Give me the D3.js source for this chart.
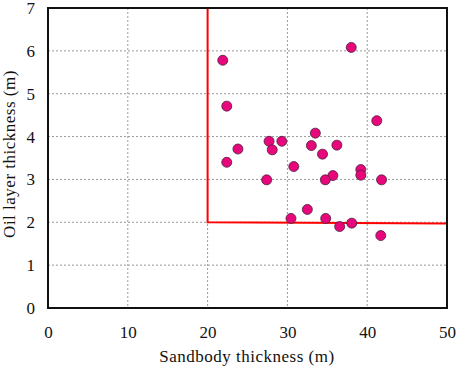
<!DOCTYPE html>
<html>
<head>
<meta charset="utf-8">
<script src="https://cdn.jsdelivr.net/npm/d3@7"></script>
<style>
  body { margin: 0; background: #fff; }
</style>
</head>
<body>
<div id="chart"></div>
<script>
// sandbody thickness vs oil layer thickness
var sandThick = [21.9, 38.0, 22.4, 41.2, 33.5, 27.7, 29.3, 23.8, 28.1, 33.0, 36.2, 34.4, 22.4,
                 30.8, 39.2, 39.2, 35.7, 34.75, 27.4, 41.8, 30.45, 32.5, 34.8, 36.55, 38.06, 41.7];
var oilThick  = [5.78, 6.08, 4.71, 4.37, 4.08, 3.89, 3.89, 3.71, 3.69, 3.79, 3.80, 3.59, 3.40,
                 3.30, 3.23, 3.10, 3.09, 2.99, 2.99, 2.99, 2.09, 2.30, 2.09, 1.90, 1.98, 1.69];
var xTicks = [0, 10, 20, 30, 40, 50];
var yTicks = [0, 1, 2, 3, 4, 5, 6, 7];
// cutoff lines: sandbody >= 20 m, oil layer >= 2 m
var cutX = [[20, 7], [20, 2], [50, 1.97]];

var serif = "'Liberation Serif', 'Times New Roman', Times, serif";

var width = 457, height = 368;
var margin = {top: 8, right: 10, bottom: 60, left: 48};
var w = width - margin.left - margin.right,
    h = height - margin.top - margin.bottom;

var svg = d3.select("#chart").append("svg")
    .attr("width", width)
    .attr("height", height);

var g = svg.append("g")
    .attr("transform", "translate(" + margin.left + "," + margin.top + ")");

var x = d3.scaleLinear().domain([0, 50]).range([0, w]);
var y = d3.scaleLinear().domain([0, 7]).range([h, 0]);

// grid
var grid = g.append("g").attr("class", "grid");
grid.selectAll("line.gx")
    .data(xTicks.slice(1, -1))
    .enter().append("line")
    .attr("class", "gx")
    .attr("x1", function(d){ return x(d); })
    .attr("x2", function(d){ return x(d); })
    .attr("y1", 0)
    .attr("y2", h);

grid.selectAll("line.gy")
    .data(yTicks.slice(1, -1))
    .enter().append("line")
    .attr("class", "gy")
    .attr("x1", 0)
    .attr("x2", w)
    .attr("y1", function(d){ return y(d); })
    .attr("y2", function(d){ return y(d); });

grid.selectAll("line")
    .style("stroke", "#999")
    .style("stroke-width", 1)
    .style("stroke-dasharray", "2,2");

// axes (labels only, no tick marks)
var xAxis = g.append("g")
    .attr("transform", "translate(0," + h + ")")
    .call(d3.axisBottom(x).tickValues(xTicks).tickFormat(d3.format("d")).tickSize(0).tickPadding(18));
xAxis.select(".domain").remove();

var yAxis = g.append("g")
    .call(d3.axisLeft(y).tickValues(yTicks).tickFormat(d3.format("d")).tickSize(0).tickPadding(13));
yAxis.select(".domain").remove();

g.selectAll(".tick text")
    .style("font-family", serif)
    .style("font-size", "17px")
    .style("fill", "#111");

// red cutoff
var line = d3.line()
    .x(function(d){ return x(d[0]); })
    .y(function(d){ return y(d[1]); });

g.append("path")
    .datum(cutX)
    .attr("d", line)
    .style("fill", "none")
    .style("stroke", "#f00")
    .style("stroke-width", 2);

// points
g.selectAll(".dot")
    .data(sandThick)
    .enter().append("circle")
    .attr("class", "dot")
    .attr("cx", function(d){ return x(d); })
    .attr("cy", function(d, i){ return y(oilThick[i]); })
    .attr("r", 5)
    .style("fill", "#e8077a")
    .style("stroke", "#4a2040")
    .style("stroke-width", 0.8);

// frame
g.append("rect")
    .attr("width", w)
    .attr("height", h)
    .style("fill", "none")
    .style("stroke", "#111")
    .style("stroke-width", 2);

// titles
svg.append("text")
    .attr("x", 247)
    .attr("y", 362)
    .attr("text-anchor", "middle")
    .style("font-family", serif)
    .style("font-size", "17px")
    .style("letter-spacing", "0.5px")
    .style("fill", "#111")
    .text("Sandbody thickness (m)");

svg.append("text")
    .attr("transform", "translate(15,154) rotate(-90)")
    .attr("text-anchor", "middle")
    .style("font-family", serif)
    .style("font-size", "17px")
    .style("letter-spacing", "0.5px")
    .style("fill", "#111")
    .text("Oil layer thickness (m)");
</script>
</body>
</html>
